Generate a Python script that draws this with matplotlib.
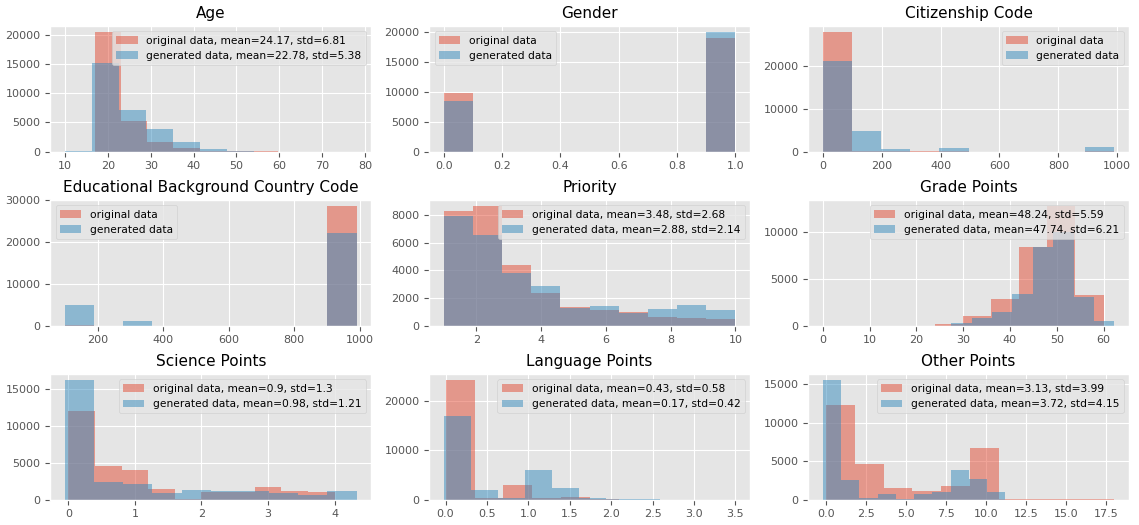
import matplotlib
matplotlib.use("Agg")
import matplotlib.pyplot as plt
import numpy as np

plt.style.use("ggplot")

titles = ["Age", "Gender", "Citizenship Code",
          "Educational Background Country Code", "Priority", "Grade Points",
          "Science Points", "Language Points", "Other Points"]

# (lo, hi) of the 10 bins, and the counts per bin, original / generated
orig_range = [(17, 78), (0, 1), (0, 990), (100, 990), (1, 10), (0, 60),
              (0, 4), (0, 3.5), (0, 18)]
gen_range = [(10, 73), (0, 1), (0, 990), (100, 990), (1, 10), (18.8, 62.3),
             (-0.05, 4.33), (-0.02, 3.24), (-0.2, 11.2)]

age_orig = [20450, 5250, 1580, 650, 170, 40, 15, 8, 4, 3]
age_gen = [100, 15100, 7150, 3940, 1560, 380, 100, 10, 3, 1]
gender_orig = [9800, 0, 0, 0, 0, 0, 0, 0, 0, 18900]
gender_gen = [8480, 0, 0, 0, 0, 0, 0, 0, 0, 20000]
cit_orig = [28140, 150, 60, 20, 40, 10, 5, 5, 5, 80]
cit_gen = [21400, 4730, 540, 0, 780, 0, 0, 0, 0, 1000]
edu_orig = [60, 10, 20, 5, 5, 5, 5, 5, 5, 28600]
edu_gen = [5000, 0, 1020, 0, 0, 0, 0, 0, 0, 22200]
prio_orig = [8240, 8640, 4380, 2330, 1360, 1140, 950, 600, 550, 480]
prio_gen = [7950, 6520, 3810, 2880, 1240, 1450, 900, 1190, 1520, 1100]
grade_orig = [3, 1, 2, 8, 140, 990, 2890, 8450, 12780, 3290]
grade_gen = [5, 10, 250, 780, 1510, 3420, 8380, 9950, 3100, 460]
sci_orig = [11990, 4560, 4030, 1500, 30, 1100, 1100, 1770, 1150, 1100]
sci_gen = [16150, 2430, 2170, 840, 1370, 1240, 1240, 840, 700, 1240]
lang_orig = [24250, 450, 3060, 270, 470, 100, 40, 30, 20, 30]
lang_gen = [16880, 2060, 350, 6050, 2460, 270, 100, 50, 30, 20]
other_orig = [12360, 4640, 1590, 1200, 1850, 6740, 50, 40, 30, 40]
other_gen = [15580, 2620, 210, 730, 30, 730, 990, 3900, 2750, 1070]

orig_counts = [age_orig, gender_orig, cit_orig, edu_orig, prio_orig,
               grade_orig, sci_orig, lang_orig, other_orig]
gen_counts = [age_gen, gender_gen, cit_gen, edu_gen, prio_gen,
              grade_gen, sci_gen, lang_gen, other_gen]

orig_stats = [(24.17, 6.81), None, None, None, (3.48, 2.68), (48.24, 5.59),
              (0.9, 1.3), (0.43, 0.58), (3.13, 3.99)]
gen_stats = [(22.78, 5.38), None, None, None, (2.88, 2.14), (47.74, 6.21),
             (0.98, 1.21), (0.17, 0.42), (3.72, 4.15)]

legend_loc = ["upper right", "upper left", "upper right", "upper left",
              "upper right", "upper right", "upper right", "upper right",
              "upper right"]


def label(name, stats):
    if stats is None:
        return name
    return f"{name}, mean={stats[0]}, std={stats[1]}"


fig, axes = plt.subplots(3, 3, figsize=(11.39, 5.25), dpi=100)

for i, ax in enumerate(axes.flat):
    for rng, counts, name, stats in [
            (orig_range[i], orig_counts[i], "original data", orig_stats[i]),
            (gen_range[i], gen_counts[i], "generated data", gen_stats[i])]:
        edges = np.linspace(rng[0], rng[1], len(counts) + 1)
        ax.hist(edges[:-1], bins=edges, weights=counts, alpha=0.5,
                label=label(name, stats))
    ax.set_title(titles[i], fontsize=11)
    ax.tick_params(labelsize=8)
    ax.legend(loc=legend_loc[i], fontsize=7.7)

plt.tight_layout(pad=0.4, h_pad=0.6, w_pad=0.8)
plt.savefig("out.png")
